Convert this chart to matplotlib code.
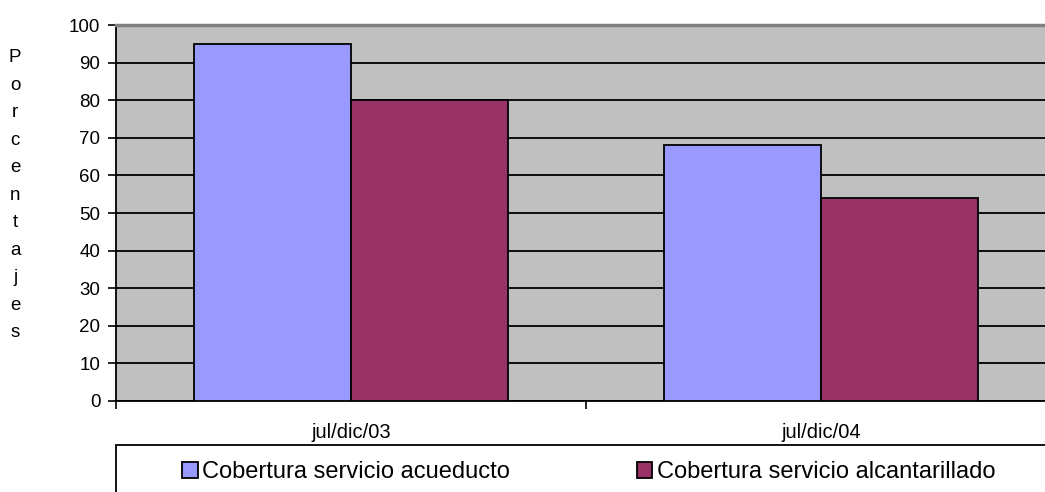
import numpy as np
import matplotlib
matplotlib.use("Agg")
import matplotlib.pyplot as plt
from matplotlib.patches import Rectangle

plt.rcParams['font.family'] = ['Liberation Sans', 'DejaVu Sans']

# data
periodos = ['jul/dic/03', 'jul/dic/04']
acueducto = [95, 68]
alcantarillado = [80, 54]
series_names = ['Cobertura servicio acueducto', 'Cobertura servicio alcantarillado']
colores = ['#9999FF', '#993366']

fig = plt.figure(figsize=(10.45, 4.92), dpi=100)
# plot area runs a bit past the right edge of the image, as in the original
ax = fig.add_axes([0.111, 0.185, 0.8995, 0.764])
ax.set_facecolor('#C0C0C0')

x = np.arange(len(periodos))
w = 0.334
ax.bar(x - w/2, acueducto, w, color=colores[0], edgecolor='black', linewidth=1.3, zorder=3)
ax.bar(x + w/2, alcantarillado, w, color=colores[1], edgecolor='black', linewidth=1.3, zorder=3)

ax.set_xlim(-0.5, len(periodos) - 0.5)
ax.set_ylim(0, 100)
ax.set_yticks(np.arange(0, 101, 10))
ax.yaxis.grid(True, color='black', linewidth=1.3, zorder=1)
ax.set_axisbelow(True)

# x ticks between categories, labels at centers
ax.set_xticks([-0.5, 0.5, 1.5])
ax.set_xticklabels([])
ax.set_xticks(x, minor=True)
ax.set_xticklabels(periodos, minor=True, fontsize=14.5)
ax.tick_params(axis='x', which='minor', length=0, pad=16)
ax.tick_params(axis='x', which='major', length=6, width=1.2, direction='out')
ax.tick_params(axis='y', length=5.8, width=1.2, labelsize=13.5, pad=5.5)

ax.spines['top'].set_color('#808080')
ax.spines['top'].set_linewidth(2.5)
ax.spines['right'].set_visible(False)
ax.spines['left'].set_linewidth(1.3)
ax.spines['bottom'].set_linewidth(1.3)

# vertical stacked y label
fig.text(0.0144, 0.603, '\n'.join('Porcentajes'), ha='center', va='center',
         fontsize=13.5, linespacing=1.81)

# legend box at the bottom
box = Rectangle((0.111, -0.05), 0.8995, 0.1455, transform=fig.transFigure,
                facecolor='white', edgecolor='black', linewidth=1.3, clip_on=False)
fig.add_artist(box)
leg_x = [0.1742, 0.6096]
for lx, name, c in zip(leg_x, series_names, colores):
    fig.add_artist(Rectangle((lx, 0.0285), 0.0148, 0.0315, transform=fig.transFigure,
                             facecolor=c, edgecolor='black', linewidth=1.3))
    fig.text(lx + 0.0195, 0.0285, name, ha='left', va='baseline', fontsize=17)

fig.savefig('out.png', dpi=100)
